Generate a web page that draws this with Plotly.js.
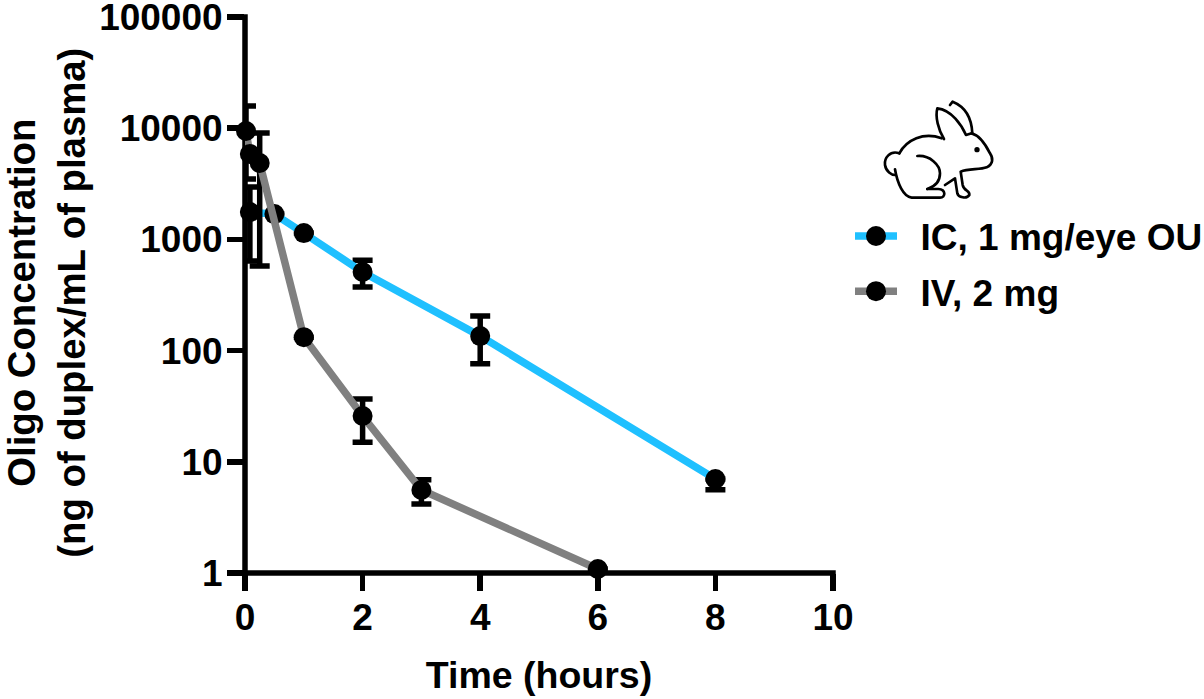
<!DOCTYPE html>
<html><head><meta charset="utf-8">
<script src="https://cdn.plot.ly/plotly-3.0.1.min.js"></script>
<style>html,body{margin:0;padding:0;background:#fff}#c{width:1204px;height:699px}</style>
</head><body><div id="c"></div>
<script>
const icTime=[0.083,0.5,1,2,4,8];
const icConc=[1760,1690,1140,509,135,7.0];
const icPlus=[1200,0,0,140,70,0];
const icMinus=[1120,0,0,136,59,1.4];
const ivTime=[0.017,0.083,0.25,1,2,3,6];
const ivConc=[9440,5860,4860,132,25.8,5.58,1.087];
const ivPlus=[6360,0,4200,0,10.9,1.3,0];
const ivMinus=[5950,0,4284,0,10.8,1.4,0];
const xTicks=[0,2,4,6,8,10];
const yTicks=[1,10,100,1000,10000,100000];
const yLabels=['1','10','100','1000','10000','100000'];
const FONT='"Liberation Sans",Arial,sans-serif';
const PAD='\u2009\u2009';
const rabbit=`<svg xmlns="http://www.w3.org/2000/svg" viewBox="0 0 1092 690"><g fill="none" stroke="#000" stroke-width="8" stroke-linecap="round" stroke-linejoin="round">
<path d="M178,190 C150,180 132,205 135,225 C138,245 155,255 165,255"/>
<path d="M178,190 C200,150 250,125 305,145"/>
<path d="M165,238 C172,280 190,320 215,323 L300,323 C318,323 318,298 295,297 L262,297"/>
<path d="M232,198 C270,195 300,225 300,250 C300,275 285,290 262,297"/>
<path d="M315,285 L345,265 L352,310 C355,322 380,328 388,315 C390,300 372,305 368,285 L362,245 C385,235 420,240 440,232 C460,222 460,205 450,190 C435,160 415,135 395,130"/>
<path d="M312,147 C295,120 285,80 292,55 C335,60 365,105 378,135 L395,130"/>
<path d="M330,45 L338,35 C375,50 395,85 397,130"/></g>
<circle cx="411" cy="179" r="8" fill="#000"/></svg>`;
function tr(name,x,y,p,m,col,grp){return {type:'scatter',mode:'lines+markers',name:name,x:x,y:y,legendgroup:grp,
 line:{color:col,width:7.5},marker:{color:'#000',size:20},cliponaxis:false,
 error_y:{type:'data',symmetric:false,array:p,arrayminus:m,color:'#000',thickness:5.5,width:10}};}
const data=[tr('\u2002IC, 1 mg/eye OU',icTime,icConc,icPlus,icMinus,'#1fc0ff','a'),
            tr('\u2002IV, 2 mg',ivTime,ivConc,ivPlus,ivMinus,'#808080','b')];
const AW=5.5, ex=AW/2/588, ey=AW/2/556;
const layout={width:1204,height:699,paper_bgcolor:'#fff',plot_bgcolor:'#fff',
 margin:{l:245,r:371,t:17,b:126,pad:0,autoexpand:false},
 font:{family:FONT,color:'#000',size:37,weight:700},
 showlegend:true,
 legend:{x:(850-245)/588,xanchor:'left',y:(573-205.5)/556,yanchor:'top',traceorder:'grouped',tracegroupgap:4,itemwidth:42,
   font:{family:FONT,size:37,color:'#000',weight:700},bgcolor:'rgba(0,0,0,0)',borderwidth:0},
 xaxis:{range:[0,10],tickvals:xTicks,ticktext:xTicks.map(String),showgrid:false,zeroline:false,
   showline:false,ticks:'outside',ticklen:17,tickwidth:AW,tickcolor:'#000',ticklabeloverflow:'allow',
   tickfont:{family:FONT,size:37,weight:700},ticklabelstandoff:-5,
   title:{text:'Time (hours)',font:{family:FONT,size:37.5,weight:700},standoff:24}},
 yaxis:{type:'log',range:[0,5],tickvals:yTicks,ticktext:yLabels,showgrid:false,zeroline:false,
   showline:false,ticks:'outside',ticklen:17,tickwidth:AW,tickcolor:'#000',ticklabeloverflow:'allow',
   tickfont:{family:FONT,size:37,weight:700},ticklabelstandoff:-3,
   title:{text:'Oligo Concentration'+PAD+'<br>(ng of duplex/mL of plasma)'+PAD+'\u200b',font:{family:FONT,size:38.3,weight:700},standoff:8}},
 shapes:[
  {type:'line',layer:'below',xref:'paper',yref:'paper',x0:-ex,x1:1+ex,y0:0,y1:0,line:{color:'#000',width:AW}},
  {type:'line',layer:'below',xref:'paper',yref:'paper',x0:0,x1:0,y0:-ey,y1:1+ey,line:{color:'#000',width:AW}}
 ],
 images:[{source:'data:image/svg+xml;base64,'+btoa(rabbit),xref:'paper',yref:'paper',
   x:(840-245)/588,y:(573-90)/556,sizex:364/588,sizey:230/556,xanchor:'left',yanchor:'top',sizing:'stretch',layer:'above'}]
};
Plotly.newPlot('c',data,layout,{displayModeBar:false,staticPlot:true}).then(()=>{
  // Plotly caps legend marker size at 16 px; the reference key marker is as large as the plot markers.
  document.querySelectorAll('#c .legendpoints path.scatterpts').forEach(p=>{
    const t=p.getAttribute('transform')||'';
    p.setAttribute('transform',t+' scale(1.25)');
  });
});
</script></body></html>
